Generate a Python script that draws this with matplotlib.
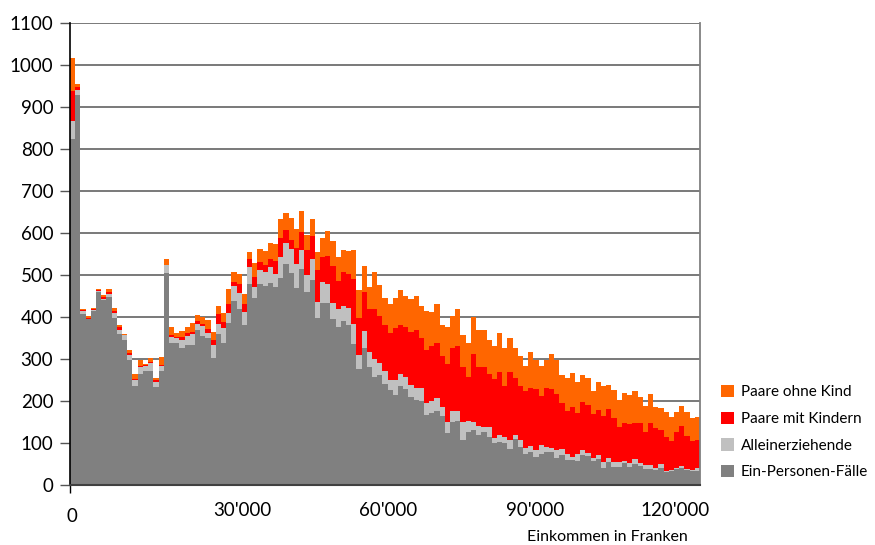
import matplotlib
matplotlib.use('Agg')
import matplotlib.pyplot as plt
import numpy as np

# -----------------------------
# Data: cases per 1000-franc income bin (0 .. 120'000)
# -----------------------------
bin_start = np.arange(0, 121000, 1000)

ein_personen = [
    822, 927, 406, 394, 413, 458, 439, 447, 397, 358, 344, 296, 235, 263, 271, 271,
    233, 271, 504, 336, 336, 325, 333, 333, 367, 354, 349, 302, 359, 337, 384, 437,
    418, 380, 478, 444, 477, 472, 480, 470, 491, 525, 503, 467, 514, 458, 487, 397,
    433, 433, 394, 375, 390, 380, 334, 275, 325, 279, 256, 260, 240, 224, 213, 234,
    228, 208, 201, 198, 165, 171, 176, 164, 122, 148, 152, 106, 126, 129, 117, 124,
    114, 98, 101, 98, 84, 108, 89, 72, 77, 65, 72, 77, 77, 63, 70, 58,
    58, 56, 70, 67, 56, 60, 39, 53, 41, 41, 51, 41, 48, 43, 38, 38,
    35, 40, 30, 32, 37, 40, 35, 32, 33,
]
alleinerziehende = [
    44, 13, 7, 1, 3, 4, 3, 6, 11, 9, 11, 12, 13, 16, 12, 19,
    11, 12, 18, 16, 12, 19, 21, 25, 16, 23, 13, 30, 24, 35, 24, 35,
    38, 31, 40, 27, 33, 34, 38, 31, 50, 50, 57, 58, 44, 40, 49, 37,
    49, 44, 38, 44, 34, 40, 48, 33, 40, 36, 43, 29, 31, 26, 37, 30,
    28, 30, 30, 33, 30, 27, 29, 20, 28, 28, 22, 42, 26, 19, 23, 14,
    24, 12, 16, 15, 23, 9, 17, 15, 14, 17, 22, 12, 10, 19, 14, 14,
    7, 16, 12, 8, 7, 10, 14, 10, 12, 12, 5, 10, 12, 9, 8, 8,
    5, 8, 2, 3, 2, 3, 3, 3, 7,
]
paare_mit_kindern = [
    71, 6, 2, 1, 2, 1, 5, 6, 5, 8, 1, 5, 3, 4, 1, 2,
    5, 2, 2, 4, 4, 7, 7, 5, 6, 6, 8, 12, 22, 15, 22, 11,
    21, 19, 19, 23, 19, 17, 19, 31, 46, 31, 23, 39, 43, 60, 55, 76,
    59, 67, 88, 65, 81, 82, 107, 88, 93, 102, 118, 112, 110, 110, 122, 117,
    120, 126, 136, 117, 126, 133, 131, 123, 138, 148, 155, 131, 104, 164, 141, 143,
    126, 141, 152, 121, 160, 136, 128, 135, 138, 145, 116, 140, 140, 133, 110, 103,
    119, 98, 114, 114, 104, 107, 110, 116, 105, 84, 90, 93, 87, 95, 79, 100,
    94, 81, 81, 68, 86, 96, 77, 68, 66,
]
paare_ohne_kind = [
    80, 7, 2, 6, 3, 2, 4, 6, 8, 4, 2, 7, 12, 13, 2, 10,
    5, 18, 13, 19, 8, 15, 14, 22, 15, 16, 21, 19, 20, 21, 35, 23,
    24, 23, 16, 33, 31, 33, 38, 40, 45, 40, 51, 44, 50, 36, 41, 43,
    46, 59, 59, 57, 53, 54, 69, 67, 62, 53, 89, 74, 64, 71, 73, 83,
    72, 79, 83, 78, 93, 79, 93, 72, 88, 78, 90, 78, 80, 87, 86, 86,
    81, 80, 91, 92, 83, 72, 72, 60, 86, 69, 72, 67, 83, 81, 66, 78,
    81, 74, 64, 64, 55, 67, 71, 58, 67, 64, 71, 69, 75, 61, 62, 70,
    50, 53, 60, 57, 48, 48, 58, 55, 54,
]

series_names = ['Ein-Personen-Fälle', 'Alleinerziehende', 'Paare mit Kindern', 'Paare ohne Kind']
series_colors = ['#808080', '#C0C0C0', '#FF0000', '#FF6600']

x_tick_labels = ['0', "30'000", "60'000", "90'000", "120'000"]
y_ticks = np.arange(0, 1200, 100)

# -----------------------------
# Plot
# -----------------------------
plt.rcParams['font.family'] = ['Lato', 'DejaVu Sans']

W, H = 875, 545
fig = plt.figure(figsize=(W / 100, H / 100), dpi=100)
ax = fig.add_axes([70 / W, 1 - 484.5 / H, 630 / W, (484.5 - 22.7) / H])

pos = np.arange(len(bin_start))
bottom = np.zeros(len(bin_start))
bars = []
for vals, name, col in zip([ein_personen, alleinerziehende, paare_mit_kindern, paare_ohne_kind],
                           series_names, series_colors):
    vals = np.array(vals, dtype=float)
    b = ax.bar(pos, vals, width=1.0, bottom=bottom, align='edge', color=col,
               linewidth=0, label=name, zorder=2)
    bars.append(b)
    bottom += vals

ax.set_xlim(0, len(bin_start))
ax.set_ylim(0, 1100)
ax.set_yticks(y_ticks)
ax.set_yticklabels([str(v) for v in y_ticks], fontsize=13.5)
ax.tick_params(axis='y', length=7, width=1, pad=5, color='#555555')
ax.set_xticks([0])
ax.set_xticklabels([''])
ax.tick_params(axis='x', length=6, width=1, color='black')
ax.yaxis.grid(True, color='#6e6e6e', linewidth=1.3, zorder=0)
ax.set_axisbelow(True)

ax.spines['top'].set_visible(False)
ax.spines['left'].set_color('black')
ax.spines['left'].set_linewidth(1.2)
ax.spines['bottom'].set_color('#404040')
ax.spines['bottom'].set_linewidth(1.5)
ax.spines['right'].set_color('#808080')
ax.spines['right'].set_linewidth(1.3)

# x labels placed as in the reference
x_label_px = [(72, 517), (242, 510), (388, 510), (535, 510), (675, 510)]
for lab, (px, py) in zip(x_tick_labels, x_label_px):
    fig.text(px / W, 1 - py / H, lab, ha='center', va='center', fontsize=13.5)
fig.text(607 / W, 1 - 537 / H, 'Einkommen in Franken', ha='center', va='center', fontsize=11.5)

# legend, top entry = top of the stack
leg = fig.legend([b[0] for b in bars[::-1]], series_names[::-1],
                 loc='upper left', bbox_to_anchor=(715 / W, 1 - 379 / H),
                 frameon=False, fontsize=11.0, handlelength=0.85, handleheight=0.85,
                 handletextpad=0.45, labelspacing=0.8, borderaxespad=0)

fig.savefig('out.png', dpi=100)
